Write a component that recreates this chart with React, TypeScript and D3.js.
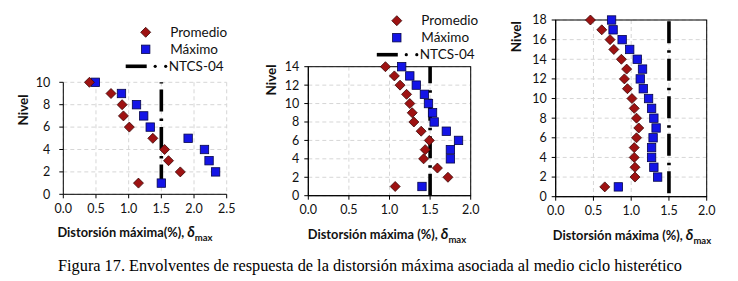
import React from "react";
import * as d3 from "d3";

// ---------- DATA ----------
const levels1 = [1, 2, 3, 4, 5, 6, 7, 8, 9, 10];
const promedio1 = [1.15, 1.79, 1.61, 1.55, 1.37, 1.01, 0.92, 0.9, 0.73, 0.4];
const maximo1 = [1.5, 2.33, 2.23, 2.16, 1.91, 1.33, 1.23, 1.12, 0.89, 0.49];

const levels2 = [1, 2, 3, 4, 5, 6, 7, 8, 9, 10, 11, 12, 13, 14];
const promedio2 = [1.07, 1.72, 1.59, 1.42, 1.44, 1.49, 1.39, 1.3, 1.28, 1.25, 1.21, 1.13, 1.06, 0.95];
const maximo2: (number | null)[] = [1.4, null, null, 1.75, 1.75, 1.85, 1.7, 1.55, 1.53, 1.48, 1.43, 1.33, 1.25, 1.15];

const levels3 = [1, 2, 3, 4, 5, 6, 7, 8, 9, 10, 11, 12, 13, 14, 15, 16, 17, 18];
const promedio3 = [0.65, 1.05, 1.05, 1.04, 1.04, 1.07, 1.1, 1.07, 1.04, 1.01, 0.95, 0.91, 0.94, 0.87, 0.77, 0.72, 0.61, 0.46];
const maximo3 = [0.83, 1.35, 1.3, 1.27, 1.27, 1.29, 1.33, 1.3, 1.27, 1.23, 1.16, 1.12, 1.15, 1.08, 0.98, 0.88, 0.76, 0.74];

const ntcsLimit = 1.5;
const ntcsStart = [0.7, 0.0, 0.35];

const xTicks1 = [0, 0.5, 1.0, 1.5, 2.0, 2.5];
const xTicks23 = [0, 0.5, 1.0, 1.5, 2.0];

const legendLabels = ["Promedio", "Máximo", "NTCS-04"];
const yTitle = "Nivel";
const xTitle1 = "Distorsión máxima(%), ";
const xTitle23 = "Distorsión máxima (%), ";
const caption = "Figura 17. Envolventes de respuesta de la distorsión máxima asociada al medio ciclo histerético";

// ---------- STYLE ----------
const RED = "#9E1212";
const BLUE = "#1414E6";
const FONT = "Lato, 'Open Sans', sans-serif";
const NTCS_DASH = "22 6 2.5 7";

type PanelProps = {
  levels: number[];
  prom: (number | null)[];
  maxv: (number | null)[];
  box: { l: number; r: number; t: number; b: number };
  xMax: number;
  yMax: number;
  xTicks: number[];
  frame: boolean;
  ntcsY0: number;
  xTitle: string;
  xTitleX: number;
  yTitlePos: [number, number];
  labelGap: number;
  legend?: { x: number; y: number };
};

function Diamond({ cx, cy }: { cx: number; cy: number }) {
  const s = 5;
  return (
    <path
      d={`M${cx},${cy - s}L${cx + s},${cy}L${cx},${cy + s}L${cx - s},${cy}Z`}
      fill={RED}
      stroke="#3a0606"
      strokeWidth={0.8}
    />
  );
}
function Square({ cx, cy }: { cx: number; cy: number }) {
  const s = 4.2;
  return <rect x={cx - s} y={cy - s} width={2 * s} height={2 * s} fill={BLUE} stroke="#06064a" strokeWidth={0.8} />;
}

function Panel(p: PanelProps) {
  const x = d3.scaleLinear().domain([0, p.xMax]).range([p.box.l, p.box.r]);
  const y = d3.scaleLinear().domain([0, p.yMax]).range([p.box.b, p.box.t]);
  const yTicks = d3.range(0, p.yMax + 1, 2);
  return (
    <g>
      {/* grid */}
      {yTicks.map((t) => (
        <line key={"gy" + t} x1={p.box.l} x2={p.box.r} y1={y(t)} y2={y(t)} stroke="#d6d6d6" strokeWidth={1} strokeDasharray="4 3" />
      ))}
      {p.xTicks.map((t) => (
        <line key={"gx" + t} x1={x(t)} x2={x(t)} y1={p.box.t} y2={p.box.b} stroke="#d6d6d6" strokeWidth={1} strokeDasharray="4 3" />
      ))}
      {/* frame / axes */}
      {p.frame && <rect x={p.box.l} y={p.box.t} width={p.box.r - p.box.l} height={p.box.b - p.box.t} fill="none" stroke="#000" strokeWidth={1} />}
      <line x1={p.box.l} x2={p.box.l} y1={p.box.t} y2={p.box.b} stroke="#000" />
      <line x1={p.box.l} x2={p.box.r} y1={p.box.b} y2={p.box.b} stroke="#000" />
      {yTicks.map((t) => (
        <g key={"ty" + t}>
          <line x1={p.box.l - 4} x2={p.box.l} y1={y(t)} y2={y(t)} stroke="#000" />
          <text x={p.box.l - p.labelGap} y={y(t)} dy="0.35em" textAnchor="end" fontSize={12.5} fontFamily={FONT} fill="#111">
            {t}
          </text>
        </g>
      ))}
      {p.xTicks.map((t) => (
        <g key={"tx" + t}>
          <line x1={x(t)} x2={x(t)} y1={p.box.b} y2={p.box.b + 4} stroke="#000" />
          <text x={x(t)} y={p.box.b + 18.5} textAnchor="middle" fontSize={12.5} fontFamily={FONT} fill="#111">
            {d3.format(".1f")(t)}
          </text>
        </g>
      ))}
      {/* NTCS line */}
      <line x1={x(ntcsLimit)} x2={x(ntcsLimit)} y1={y(p.ntcsY0)} y2={y(p.yMax)} stroke="#000" strokeWidth={3.6} strokeDasharray={NTCS_DASH} />
      {/* points */}
      {p.levels.map((lv, i) =>
        p.maxv[i] == null ? null : <Square key={"m" + lv} cx={x(p.maxv[i] as number)} cy={y(lv)} />
      )}
      {p.levels.map((lv, i) =>
        p.prom[i] == null ? null : <Diamond key={"p" + lv} cx={x(p.prom[i] as number)} cy={y(lv)} />
      )}
      {/* axis titles */}
      <text x={p.xTitleX} y={p.box.b + 43} textAnchor="middle" fontSize={12.8} fontWeight="bold" fontFamily={FONT} fill="#111">
        {p.xTitle}
        <tspan fontStyle="italic" fontSize={14.5}>δ</tspan>
        <tspan fontSize={9.5} dy={4}>max</tspan>
      </text>
      <text
        transform={`translate(${p.yTitlePos[0]},${p.yTitlePos[1]}) rotate(-90)`}
        textAnchor="middle"
        dy="0.35em"
        fontSize={13.5}
        fontWeight="bold"
        fontFamily={FONT}
        fill="#111"
      >
        {yTitle}
      </text>
      {/* legend */}
      {p.legend && (
        <g>
          <Diamond cx={p.legend.x} cy={p.legend.y} />
          <text x={p.legend.x + 24.5} y={p.legend.y} dy="0.35em" fontSize={13.5} fontFamily={FONT} fill="#111">
            {legendLabels[0]}
          </text>
          <Square cx={p.legend.x} cy={p.legend.y + 17} />
          <text x={p.legend.x + 24.5} y={p.legend.y + 17} dy="0.35em" fontSize={13.5} fontFamily={FONT} fill="#111">
            {legendLabels[1]}
          </text>
          <line x1={p.legend.x - 20} x2={p.legend.x + 1} y1={p.legend.y + 34} y2={p.legend.y + 34} stroke="#000" strokeWidth={3.6} />
          <circle cx={p.legend.x + 9.5} cy={p.legend.y + 34} r={1.6} fill="#000" />
          <circle cx={p.legend.x + 20} cy={p.legend.y + 34} r={1.6} fill="#000" />
          <text x={p.legend.x + 23} y={p.legend.y + 34} dy="0.35em" fontSize={13.5} fontFamily={FONT} fill="#111">
            {legendLabels[2]}
          </text>
        </g>
      )}
    </g>
  );
}

export default function App() {
  return (
    <svg width={738} height={281} style={{ position: "absolute", left: 0, top: 0, background: "#fff" }}>
      <rect width={738} height={281} fill="#fff" />
      <Panel
        levels={levels1}
        prom={promedio1}
        maxv={maximo1}
        box={{ l: 63.3, r: 226.7, t: 82.3, b: 194.3 }}
        xMax={2.5}
        yMax={10}
        xTicks={xTicks1}
        frame={false}
        ntcsY0={ntcsStart[0]}
        xTitle={xTitle1}
        xTitleX={135}
        yTitlePos={[23, 110]}
        labelGap={13}
        legend={{ x: 145.7, y: 32.3 }}
      />
      <Panel
        levels={levels2}
        prom={promedio2}
        maxv={maximo2}
        box={{ l: 308.3, r: 470.7, t: 66.7, b: 195.7 }}
        xMax={2.0}
        yMax={14}
        xTicks={xTicks23}
        frame={true}
        ntcsY0={ntcsStart[1]}
        xTitle={xTitle23}
        xTitleX={387}
        yTitlePos={[271, 80]}
        labelGap={9}
        legend={{ x: 396.8, y: 20.7 }}
      />
      <Panel
        levels={levels3}
        prom={promedio3}
        maxv={maximo3}
        box={{ l: 555.7, r: 706.7, t: 20, b: 196.7 }}
        xMax={2.0}
        yMax={18}
        xTicks={xTicks23}
        frame={true}
        ntcsY0={ntcsStart[2]}
        xTitle={xTitle23}
        xTitleX={632}
        yTitlePos={[516.7, 36.7]}
        labelGap={9}
      />
      <text x={370} y={271} textAnchor="middle" fontSize={16.3} fontFamily="'Liberation Serif', 'Times New Roman', serif" fill="#000">
        {caption}
      </text>
    </svg>
  );
}
